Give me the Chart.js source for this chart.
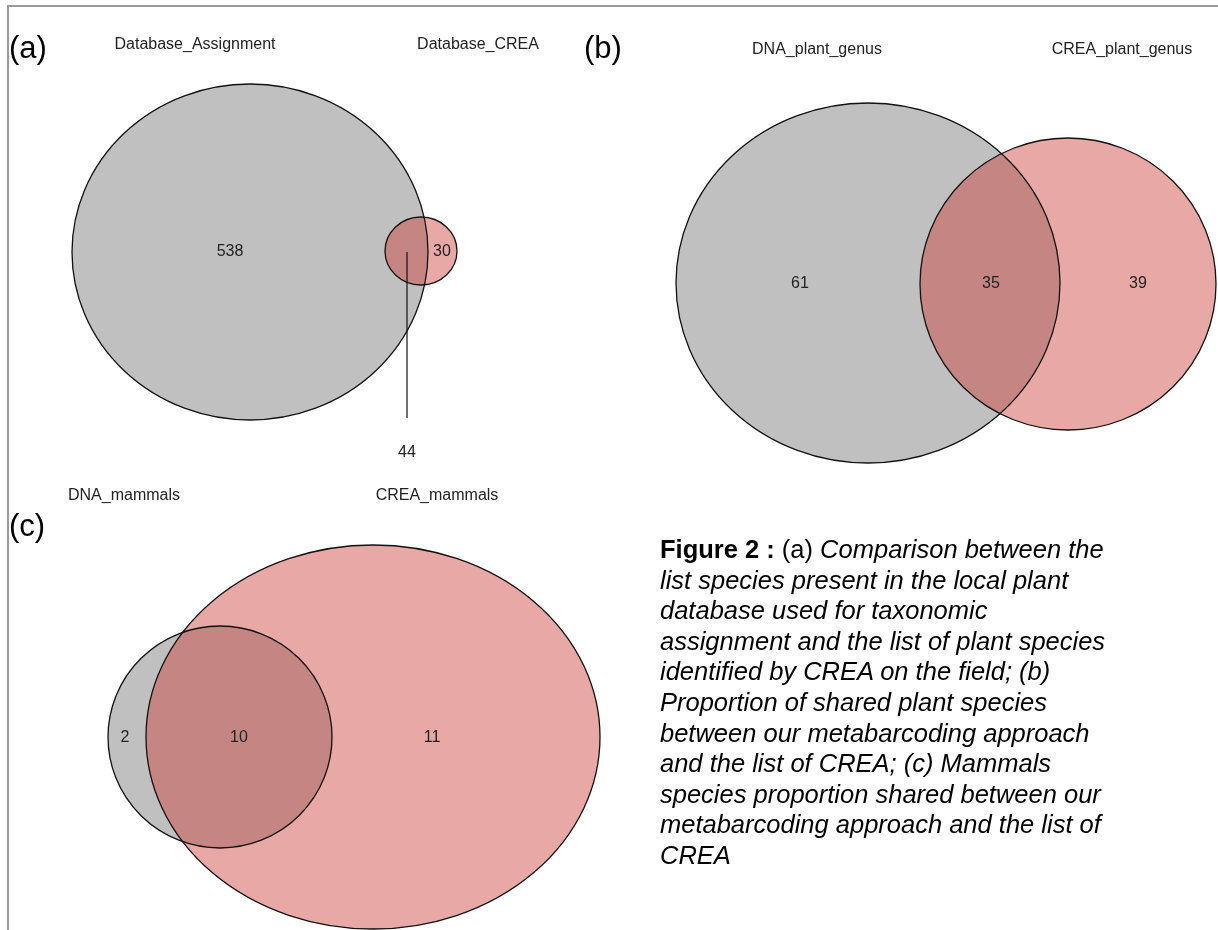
<!DOCTYPE html>
<html>
<head>
<meta charset="utf-8">
<script src="https://cdn.jsdelivr.net/npm/chart.js@4"></script>
<style>
  html, body { margin: 0; padding: 0; background: #fff; }
  #wrap { position: relative; width: 1218px; height: 930px; overflow: hidden; }
  #figura { position: absolute; left: 0; top: 0; }
  #legenda {
    position: absolute; left: 660px; top: 534px; width: 556px;
    font-family: "Liberation Sans", Arial, sans-serif; font-size: 25.5px;
    line-height: 30.6px; color: #000; white-space: nowrap;
  }
  #legenda i { font-style: italic; }
</style>
</head>
<body>
<div id="wrap">
  <canvas id="figura" width="1218" height="930"></canvas>
  <div id="legenda"><b>Figure 2 :</b> (a) <i>Comparison between the<br>list species present in the local plant<br>database used for taxonomic<br>assignment and the list of plant species<br>identified by CREA on the field; (b)<br>Proportion of shared plant species<br>between our metabarcoding approach<br>and the list of CREA; (c) Mammals<br>species proportion shared between our<br>metabarcoding approach and the list of<br>CREA</i></div>
</div>
<script>
// Dados de cada diagrama: nomes dos conjuntos e contagens (só A, A∩B, só B)
var setsA = ['Database_Assignment', 'Database_CREA'];
var countsA = [538, 44, 30];
var setsB = ['DNA_plant_genus', 'CREA_plant_genus'];
var countsB = [61, 35, 39];
var setsC = ['DNA_mammals', 'CREA_mammals'];
var countsC = [2, 10, 11];

// Geometria dos círculos (unidades das escalas = pixels da figura)
var painéis = [
  {
    letra: '(a)', letraPos: [9, 58], sets: setsA, counts: countsA,
    circulos: [
      { x: 250, y: 252, rx: 178, ry: 168 },
      { x: 421, y: 251, rx: 36, ry: 34 }
    ],
    nomesPos: [[195, 45], [478, 45]],
    contPos: [[230, 252], [407, 453], [442, 252]],
    linha: [[407, 252], [407, 418]]
  },
  {
    letra: '(b)', letraPos: [584, 58], sets: setsB, counts: countsB,
    circulos: [
      { x: 868, y: 283, rx: 192, ry: 180 },
      { x: 1068, y: 284, rx: 148, ry: 146 }
    ],
    nomesPos: [[817, 50], [1122, 50]],
    contPos: [[800, 284], [991, 284], [1138, 284]]
  },
  {
    letra: '(c)', letraPos: [9, 536], sets: setsC, counts: countsC,
    circulos: [
      { x: 220, y: 737, rx: 112, ry: 111 },
      { x: 373, y: 737, rx: 227, ry: 192 }
    ],
    nomesPos: [[124, 496], [437, 496]],
    contPos: [[125, 738], [239, 738], [432, 738]]
  }
];

var corCinza = 'rgb(192, 192, 192)';
var corRosa = 'rgba(203, 57, 52, 0.44)';

// Um conjunto de dados por círculo (centro como ponto)
var datasets = [];
painéis.forEach(function (p) {
  p.circulos.forEach(function (c, i) {
    datasets.push({
      label: p.sets[i],
      data: [{ x: c.x, y: c.y }],
      pointRadius: 0,
      circ: c,
      fill: i === 0 ? corCinza : corRosa
    });
  });
});

var vennPlugin = {
  id: 'venn',
  beforeDatasetsDraw: function (chart) {
    var ctx = chart.ctx;
    var xs = chart.scales.x, ys = chart.scales.y;
    function px(v) { return xs.getPixelForValue(v); }
    function py(v) { return ys.getPixelForValue(v); }

    // preenchimentos
    chart.data.datasets.forEach(function (ds) {
      var c = ds.circ;
      var cx = px(ds.data[0].x), cy = py(ds.data[0].y);
      ctx.save();
      ctx.beginPath();
      ctx.ellipse(cx, cy, px(c.x + c.rx) - cx, py(c.y + c.ry) - cy, 0, 0, Math.PI * 2);
      ctx.fillStyle = ds.fill;
      ctx.fill();
      ctx.restore();
    });
    // contornos
    chart.data.datasets.forEach(function (ds) {
      var c = ds.circ;
      var cx = px(ds.data[0].x), cy = py(ds.data[0].y);
      ctx.save();
      ctx.beginPath();
      ctx.ellipse(cx, cy, px(c.x + c.rx) - cx, py(c.y + c.ry) - cy, 0, 0, Math.PI * 2);
      ctx.lineWidth = 1.3;
      ctx.strokeStyle = '#111';
      ctx.stroke();
      ctx.restore();
    });

    ctx.save();
    ctx.textAlign = 'center';
    ctx.textBaseline = 'middle';
    painéis.forEach(function (p) {
      if (p.linha) {
        ctx.beginPath();
        ctx.moveTo(px(p.linha[0][0]), py(p.linha[0][1]));
        ctx.lineTo(px(p.linha[1][0]), py(p.linha[1][1]));
        ctx.lineWidth = 1.2;
        ctx.strokeStyle = '#111';
        ctx.stroke();
      }
      ctx.fillStyle = '#222';
      ctx.font = '16px "Liberation Sans", Arial, sans-serif';
      p.counts.forEach(function (n, i) {
        ctx.fillText(String(n), px(p.contPos[i][0]), py(p.contPos[i][1]));
      });
      p.sets.forEach(function (s, i) {
        ctx.fillText(s, px(p.nomesPos[i][0]), py(p.nomesPos[i][1]));
      });
      ctx.fillStyle = '#000';
      ctx.font = '31px "Liberation Sans", Arial, sans-serif';
      ctx.textAlign = 'left';
      ctx.textBaseline = 'alphabetic';
      ctx.fillText(p.letra, px(p.letraPos[0]), py(p.letraPos[1]));
      ctx.textAlign = 'center';
      ctx.textBaseline = 'middle';
    });
    ctx.restore();

    // moldura cinza (topo e esquerda)
    ctx.save();
    ctx.strokeStyle = '#999';
    ctx.lineWidth = 2;
    ctx.beginPath();
    ctx.moveTo(px(8), py(930));
    ctx.lineTo(px(8), py(6));
    ctx.lineTo(px(1218), py(6));
    ctx.stroke();
    ctx.restore();
  }
};

var grafico = new Chart(document.getElementById('figura').getContext('2d'), {
  type: 'scatter',
  data: { datasets: datasets },
  options: {
    responsive: false,
    animation: false,
    layout: { padding: 0 },
    plugins: { legend: { display: false }, tooltip: { enabled: false } },
    scales: {
      x: { type: 'linear', min: 0, max: 1218, display: false },
      y: { type: 'linear', min: 0, max: 930, reverse: true, display: false }
    }
  },
  plugins: [vennPlugin]
});
</script>
</body>
</html>
